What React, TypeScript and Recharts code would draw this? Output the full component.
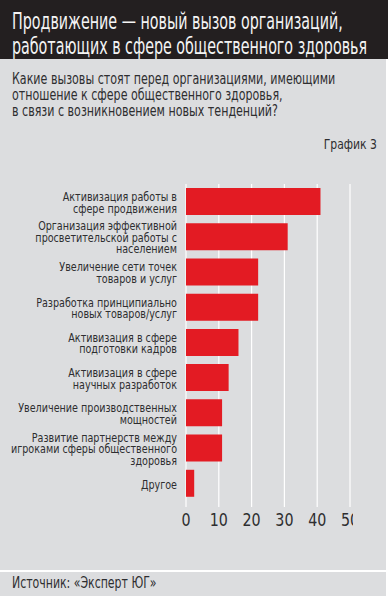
import { BarChart, Bar, XAxis, YAxis, CartesianGrid } from "recharts";

const categories = [
  "Активизация работы в\nсфере продвижения",
  "Организация эффективной\nпросветительской работы с\nнаселением",
  "Увеличение сети точек\nтоваров и услуг",
  "Разработка принципиально\nновых товаров/услуг",
  "Активизация в сфере\nподготовки кадров",
  "Активизация в сфере\nнаучных разработок",
  "Увеличение производственных\nмощностей",
  "Развитие партнерств между\nигроками сферы общественного\nздоровья",
  "Другое",
];
const values = [41, 31, 22, 22, 16, 13, 11, 11, 2.5];
const xTicks = [0, 10, 20, 30, 40, 50];

const titleLines = [
  "Продвижение — новый вызов организаций,",
  "работающих в сфере общественного здоровья",
];
const questionLines = [
  "Какие вызовы стоят перед организациями, имеющими",
  "отношение к сфере общественного здоровья,",
  "в связи с возникновением новых тенденций?",
];
const chartLabel = "График 3";
const sourceText = "Источник: «Эксперт ЮГ»";

const FONT = "'DejaVu Sans Condensed', 'DejaVu Sans', sans-serif";
const INK = "#2e2e30";

const data = categories.map((name, i) => ({ name, value: values[i] }));

// the original uses a narrow grotesque, so text gets squeezed horizontally
function Squeezed({ left, right, top, size, sx, color, children }: any) {
  return (
    <div
      style={{
        position: "absolute",
        left,
        right,
        top,
        fontSize: size,
        lineHeight: size + "px",
        color,
        whiteSpace: "nowrap",
        transform: `scaleX(${sx})`,
        transformOrigin: right !== undefined ? "right top" : "left top",
      }}
    >
      {children}
    </div>
  );
}

function CategoryTick(props: any) {
  const { x, y, payload } = props;
  const lines: string[] = String(payload.value).split("\n");
  const lh = 11.5;
  const start = y + 2 - ((lines.length - 1) * lh) / 2;
  return (
    <g transform={`translate(${x} 0) scale(0.89 1)`}>
      <text
        x={0}
        y={start}
        textAnchor="end"
        fill={INK}
        fontSize={12}
        fontFamily={FONT}
        dominantBaseline="middle"
      >
        {lines.map((l, i) => (
          <tspan key={i} x={0} y={start + i * lh}>
            {l}
          </tspan>
        ))}
      </text>
    </g>
  );
}

function ValueTick(props: any) {
  const { x, y, payload } = props;
  return (
    <g transform={`translate(${x} ${y}) scale(0.88 1)`}>
      <text x={0} y={0} dy="0.71em" textAnchor="middle" fill={INK} fontSize={18} fontFamily={FONT}>
        {payload.value}
      </text>
    </g>
  );
}

export default function App() {
  return (
    <div
      style={{
        position: "absolute",
        left: 0,
        top: 0,
        width: 388,
        height: 598,
        background: "#ffffff",
        fontFamily: FONT,
        overflow: "hidden",
      }}
    >
      <div
        style={{
          position: "absolute",
          left: 0,
          top: 0,
          width: 388,
          height: 59,
          background: "#231f20",
        }}
      />
      {titleLines.map((t, i) => (
        <Squeezed key={i} left={12} top={10 + i * 25} size={23} sx={0.69} color="#f4f4f4">
          {t}
        </Squeezed>
      ))}

      <div
        style={{
          position: "absolute",
          left: 0,
          top: 59,
          width: 386,
          height: 511,
          background: "#dcdddf",
        }}
      />
      <div
        style={{
          position: "absolute",
          left: 0,
          top: 572,
          width: 386,
          height: 24,
          background: "#dcdddf",
        }}
      />

      {questionLines.map((t, i) => (
        <Squeezed key={i} left={12} top={71 + i * 16} size={16} sx={0.77} color={INK}>
          {t}
        </Squeezed>
      ))}
      <Squeezed right={11} top={137} size={14} sx={0.86} color={INK}>
        {chartLabel}
      </Squeezed>

      <div style={{ position: "absolute", left: 0, top: 160 }}>
        <BarChart
          width={353}
          height={387}
          data={data}
          layout="vertical"
          margin={{ top: 24, right: 3, bottom: 0, left: 0 }}
        >
          <CartesianGrid horizontal={false} stroke="#ffffff" strokeWidth={1.2} />
          <XAxis
            type="number"
            domain={[0, 50]}
            ticks={xTicks}
            interval={0}
            axisLine={false}
            tickLine={false}
            tickSize={6}
            tickMargin={0}
            height={40}
            tick={<ValueTick />}
          />
          <YAxis
            type="category"
            dataKey="name"
            width={186}
            axisLine={false}
            tickLine={false}
            tickSize={8}
            tickMargin={1}
            interval={0}
            padding={{ top: 0, bottom: 6 }}
            tick={<CategoryTick />}
          />
          <Bar dataKey="value" fill="#e31b23" barSize={27} isAnimationActive={false} />
        </BarChart>
      </div>

      <Squeezed left={12} top={575} size={16} sx={0.76} color={INK}>
        {sourceText}
      </Squeezed>
    </div>
  );
}
